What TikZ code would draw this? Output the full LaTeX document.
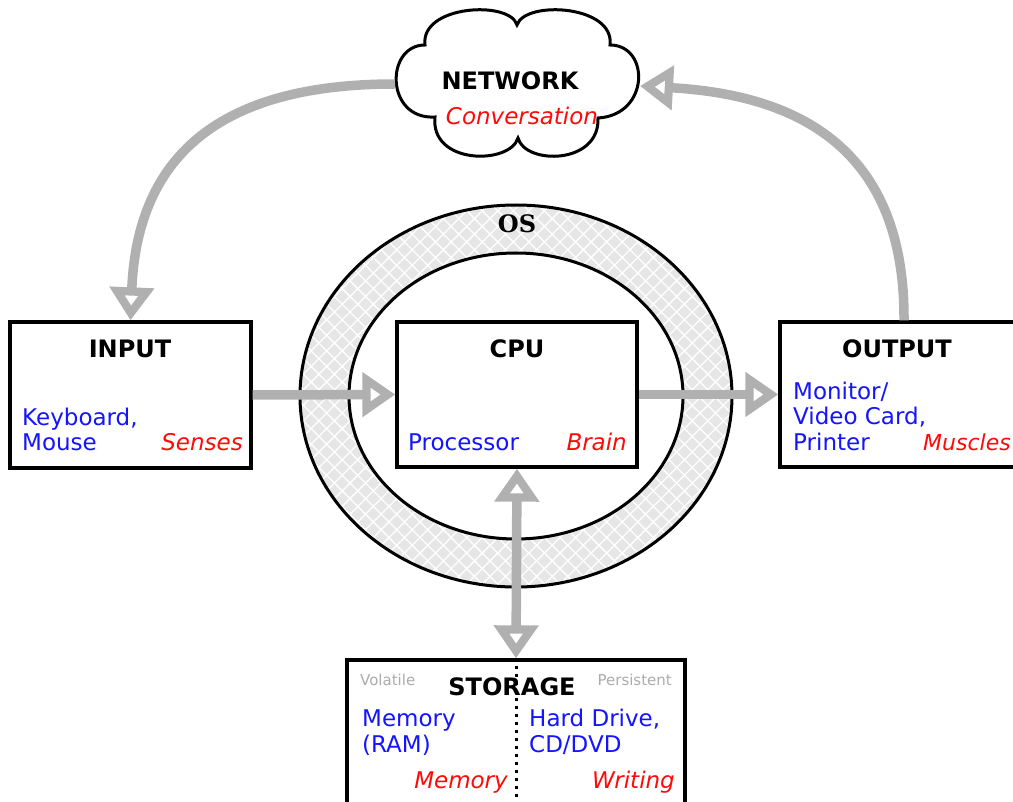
\documentclass[tikz,border=0pt]{standalone}
\usepackage{fontspec}
\setmainfont{DejaVu Sans}
\newfontfamily\osfont{DejaVu Serif}
\usetikzlibrary{arrows.meta,patterns.meta}
\definecolor{arrowgray}{RGB}{176,176,176}
\definecolor{ringgray}{RGB}{230,230,230}
\definecolor{txtblue}{RGB}{20,20,255}
\definecolor{txtred}{RGB}{255,10,10}
\definecolor{notegray}{RGB}{172,172,172}
\begin{document}
\begin{tikzpicture}[x=1pt,y=-1pt,
  >={Triangle[length=33pt,width=43pt,fill=white]},
  box/.style={draw=black, line width=3.3pt, fill=white, inner sep=0pt},
  title/.style={font=\fontsize{24}{27}\selectfont\bfseries, anchor=base, inner sep=0pt},
  dev/.style={font=\fontsize{23}{25.5}\selectfont, text=txtblue, align=left, anchor=base west, inner sep=0pt},
  role/.style={font=\fontsize{23}{25.5}\selectfont\itshape, text=txtred, anchor=base east, inner sep=0pt},
  note/.style={font=\fontsize{15}{17}\selectfont, text=notegray, inner sep=0pt},
  flow/.style={draw=arrowgray, line width=9.5pt, ->},
  biflow/.style={draw=arrowgray, line width=9.5pt, <->},
  outline/.style={draw=black, line width=3pt},
]
\useasboundingbox (0,0) rectangle (1013,802);

% OS ring
\fill[ringgray, even odd rule] (516,396) ellipse [x radius=216, y radius=191]
  (516,396) ellipse [x radius=167, y radius=143];
\fill[pattern={Hatch[angle=45,distance=11pt,line width=1.3pt]}, pattern color=white, even odd rule]
  (516,396) ellipse [x radius=216, y radius=191]
  (516,396) ellipse [x radius=167, y radius=143];
\draw[outline] (516,396) ellipse [x radius=216, y radius=191];
\draw[outline] (516,396) ellipse [x radius=167, y radius=143];
\node[font=\osfont\bfseries\fontsize{24}{27}\selectfont, anchor=base, inner sep=0pt] (os) at (517,233) {OS};

% Cloud
\coordinate (netL) at (395,84);
\coordinate (netR) at (640,86);
\draw[outline, fill=white]
  (425,45) .. controls (420,5) and (510,0) .. (517,25)
  .. controls (525,0) and (615,5) .. (610,45)
  .. controls (650,45) and (650,115) .. (598,118)
  .. controls (600,165) and (525,165) .. (518,138)
  .. controls (510,165) and (430,165) .. (435,117)
  .. controls (385,120) and (385,45) .. cycle;
\node[title] (nettitle) at (510,90) {NETWORK};
\node[role, anchor=base] (netrole) at (522,125) {Conversation};

% Boxes
\node[box, minimum width=241pt, minimum height=146pt] (input) at (130.5,395) {};
\node[box, minimum width=240pt, minimum height=145pt] (cpu) at (517,394.5) {};
\node[box, minimum width=236pt, minimum height=145pt] (output) at (898,394.5) {};
\node[box, minimum width=338pt, minimum height=180pt] (storage) at (516,750) {};

% Box texts
\node[title] (intitle) at (130,358) {INPUT};
\node[dev] (indev) at (22,451) {Keyboard,\\Mouse};
\node[role] (inrole) at (243,451) {Senses};

\node[title] (cputitle) at (517,358) {CPU};
\node[dev] (cpudev) at (408,451) {Processor};
\node[role] (cpurole) at (627,451) {Brain};

\node[title] (outtitle) at (897,358) {OUTPUT};
\node[dev] (outdev) at (793,450) {Monitor/\\Video Card,\\Printer};
\node[role, font=\fontsize{22}{25}\selectfont\itshape] (outrole) at (1011,450) {Muscles};

\node[note, anchor=base west] (vol) at (360,685) {Volatile};
\node[note, anchor=base east] (pers) at (672,685) {Persistent};
\node[title] (stitle) at (512,695) {STORAGE};
\node[dev] (mem) at (362,752) {Memory\\(RAM)};
\node[dev] (hdd) at (529,752) {Hard Drive,\\CD/DVD};
\node[role] (memrole) at (508,788) {Memory};
\node[role] (wrole) at (675,788) {Writing};
\draw[line width=3pt, dash pattern=on 3pt off 5pt] (storage.north) -- (storage.south);

% Connectors
\draw[flow] (input.east) -- (cpu.west);
\draw[flow] (cpu.east) -- (output.west);
\draw[biflow] (cpu.south) -- (storage.north);
\draw[flow] (netL) .. controls (240,84) and (138,140) .. (input.north);
\draw[flow] ([xshift=6pt]output.north) .. controls (905,150) and (800,95) .. (netR);
\end{tikzpicture}
\end{document}
